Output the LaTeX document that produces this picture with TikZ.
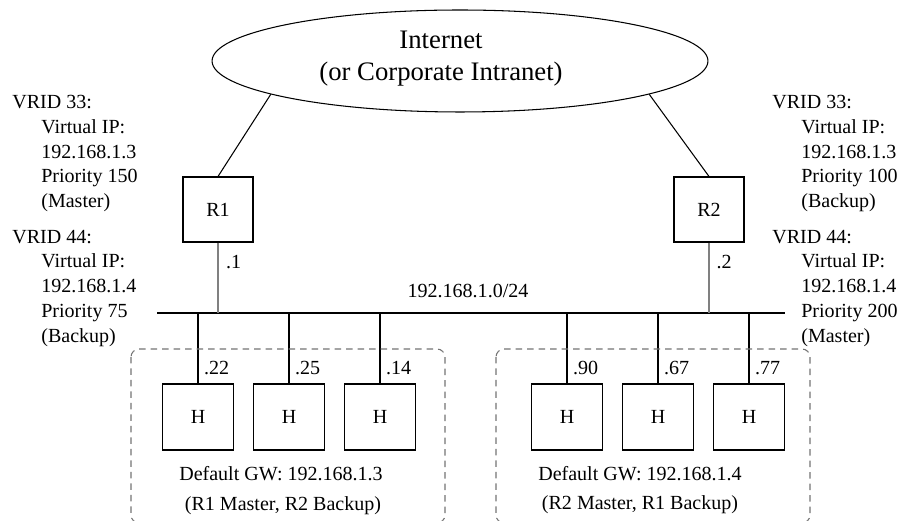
\documentclass[tikz,border=0pt]{standalone}
\usepackage{fontspec}
\setmainfont{Liberation Serif}
\usetikzlibrary{shapes.geometric}

\newcommand{\vindent}{\hspace*{0.58cm}}

\tikzset{
  lbl/.style={font=\fontsize{11.4}{14.2}\selectfont, inner sep=0pt},
  vrid/.style={lbl, align=left, anchor=north west},
  router/.style={draw, line width=0.6pt, lbl, minimum width=1.4cm, minimum height=1.3cm},
  host/.style={draw, line width=0.6pt, lbl, minimum width=1.42cm, minimum height=1.32cm},
  addr/.style={lbl, anchor=west, text=black},
  uplink/.style={draw, line width=0.6pt, gray},
  drop/.style={draw, line width=0.6pt},
  lan/.style={draw, line width=0.6pt, black!55, rounded corners=0.16cm,
    dash pattern=on 0.13cm off 0.1cm}
}

\begin{document}
\begin{tikzpicture}[x=0.02cm,y=0.02cm]

\useasboundingbox (0,0) rectangle (901,520);

% ============================
% CLOUD
% ============================
\node[ellipse, draw, line width=0.6pt, minimum width=9.92cm, minimum height=2.04cm]
  (inet) at (460,459) {};
\node[lbl, align=center, font=\fontsize{15.2}{18.2}\selectfont] (inetlbl) at (441,461)
  {Internet\\(or Corporate Intranet)};

% ============================
% ROUTERS
% ============================
\node[router] (r1) at (218,310.5) {R1};
\node[router] (r2) at (709,310.5) {R2};

\draw[line width=0.6pt] (r1.north) -- (inet.190.3);
\draw[line width=0.6pt] (r2.north) -- (inet.350.6);

% VRID settings
\node[vrid] (l33) at (12,425.5)
  {VRID 33:\\\vindent Virtual IP:\\\vindent 192.168.1.3\\\vindent Priority 150\\\vindent (Master)};
\node[vrid] (l44) at (12,290.5)
  {VRID 44:\\\vindent Virtual IP:\\\vindent 192.168.1.4\\\vindent Priority 75\\\vindent (Backup)};
\node[vrid] (r33) at (772,425.5)
  {VRID 33:\\\vindent Virtual IP:\\\vindent 192.168.1.3\\\vindent Priority 100\\\vindent (Backup)};
\node[vrid] (r44) at (772,290.5)
  {VRID 44:\\\vindent Virtual IP:\\\vindent 192.168.1.4\\\vindent Priority 200\\\vindent (Master)};

% ============================
% SEGMENT
% ============================
\coordinate (busL) at (157,207);
\coordinate (busR) at (785,207);
\draw[line width=1.7pt] (busL) -- (busR);
\node[lbl] (net) at (468,229) {192.168.1.0/24};

\draw[uplink] (r1.south) -- (r1 |- busL) node[addr, pos=0.28, xshift=0.15cm] (a1) {.1};
\draw[uplink] (r2.south) -- (r2 |- busL) node[addr, pos=0.28, xshift=0.14cm] (a2) {.2};

% ============================
% HOSTS
% ============================
\foreach \x/\ip [count=\i] in {198/22, 289/25, 380/14, 567/90, 658/67, 749/77} {
  \node[host] (h\i) at (\x,103) {H};
  \draw[drop] (h\i |- busL) -- (h\i.north)
    node[addr, pos=0.775, xshift=0.11cm] (ip\i) {.\ip};
}

% groups (bottom edge runs off the page)
\draw[lan] (131,171) rectangle (445,-3);
\draw[lan] (496,171) rectangle (810,-3);

\node[lbl] (gw1) at (281,46) {Default GW: 192.168.1.3};
\node[lbl] (role1) at (283,14) {(R1 Master, R2 Backup)};
\node[lbl] (gw2) at (640,46) {Default GW: 192.168.1.4};
\node[lbl] (role2) at (640,15) {(R2 Master, R1 Backup)};

\end{tikzpicture}
\end{document}
